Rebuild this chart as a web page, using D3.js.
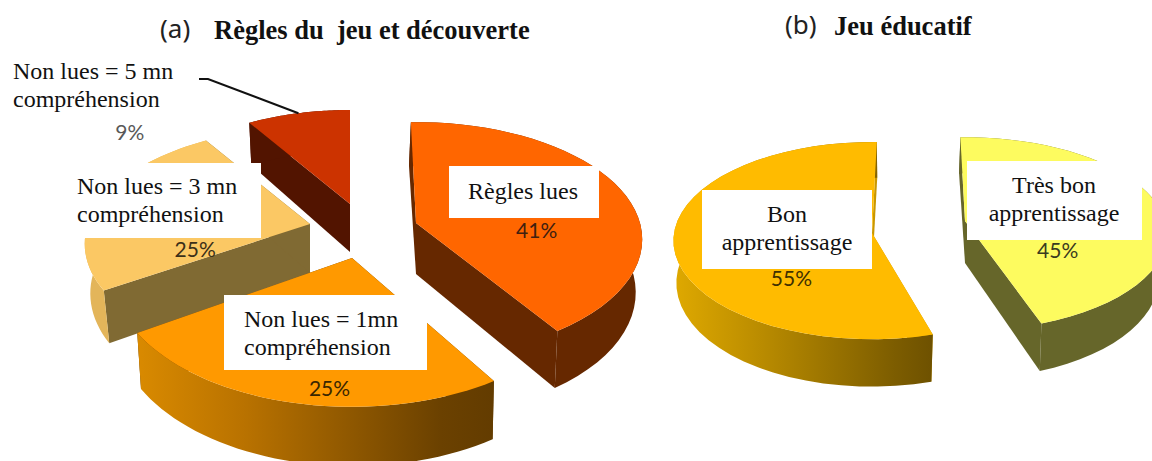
<!DOCTYPE html>
<html>
<head>
<meta charset="utf-8">
<title>Règles du jeu et découverte / Jeu éducatif</title>
<script src="https://cdn.jsdelivr.net/npm/d3@7"></script>
<style>
    html, body { margin: 0; padding: 0; background: #fff; overflow: hidden; }
    svg { display: block; }
</style>
</head>
<body>
<svg id="chart"></svg>
<script>
// values
let reglesNames = ["Règles lues", "Non lues = 1mn compréhension", "Non lues = 3 mn compréhension", "Non lues = 5 mn compréhension"];
let reglesValues = [41, 25, 25, 9];
let educatifNames = ["Très bon apprentissage", "Bon apprentissage"];
let educatifValues = [45, 55];

let svgWidth = 1152, svgHeight = 461;
let svg = d3.select("#chart").attr("width", svgWidth).attr("height", svgHeight);
let defs = svg.append("defs");

// every slice has been pulled out and tilted on its own, so each gets its own projection
// R/Rk = horizontal/vertical radius, p = perspective, d = thickness, bs = shrink of the lower rim
let reglesLayout = [
    {cx: 416, cy: 223, R: 224, Rk: 115, p: 0.14, rot: -1.5, d: 51, bs: 0.97, lean: 2, top: "#FF6600", side: "#662800", radial: "#662800", pct: [6, 28], pctColor: "#402010"},
    {cx: 352, cy: 258, R: 238, Rk: 131, p: 0.12, rot: 0, d: 52, bs: 0.985, lean: 1, top: "#FF9900", side: "url(#sideOrange)", radial: "#663D00", pct: [8, 58], pctColor: "#3a2600"},
    {cx: 310, cy: 224, R: 222, Rk: 113, p: 0.17, rot: 0, d: 49, bs: 0.976, lean: 1, top: "#FBC864", side: "#E3B55A", radial: "#806A33", pct: [2, 41], pctColor: "#3c3018"},
    {cx: 350, cy: 204, R: 215, Rk: 110, p: 0.17, rot: 0, d: 48, bs: 0.98, lean: 0, top: "#CC3300", side: "#521400", radial: "#521400", pct: [-190, -16], pctColor: "#595959"}
];
let educatifLayout = [
    {cx: 965, cy: 221, R: 200, Rk: 95, p: 0.134, rot: -1.5, d: 42, bs: 0.96, lean: 1.5, top: "#FDFB5F", side: "#66662A", radial: "#66662A", pct: [-14, 41], pctColor: "#3a3a20"},
    {cx: 872, cy: 233, R: 198, Rk: 98, p: 0.078, rot: 1.5, d: 41.5, bs: 0.985, lean: -0.5, top: "#FFBB00", side: "url(#sideGold)", radial: "#C99700", pct: [28, 41], pctColor: "#403000"}
];

// gradients on the round side of the slices
function sideGradient(id, stops) {
    let g = defs.append("linearGradient").attr("id", id);
    g.selectAll("stop").data(stops).join("stop")
        .attr("offset", d => d[0])
        .attr("stop-color", d => d[1]);
}
sideGradient("sideOrange", [[0, "#D98A00"], [0.3, "#B97200"], [0.85, "#6B4100"], [1, "#633C00"]]);
sideGradient("sideGold", [[0, "#DFA900"], [0.3, "#BE8F00"], [0.85, "#7D5D00"], [1, "#6E5100"]]);

let pie = d3.pie().sort(null);
let line = d3.line().x(d => d[0]).y(d => d[1]);

// disc -> screen, a in radians clockwise from the top, r as a fraction of the radius
function topPoint(l, a, r) {
    let u = Math.sin(a + l.rot * Math.PI / 180) * r;
    let v = -Math.cos(a + l.rot * Math.PI / 180) * r;
    let s = 1 / (1 - l.p * v);
    return [l.cx + l.R * u * s, l.cy + l.Rk * v * s];
}
function bottomPoint(l, a, r) {
    let t = topPoint(l, a, r);
    let v = -Math.cos(a + l.rot * Math.PI / 180) * r;
    return [l.cx + (t[0] - l.cx) * l.bs + l.lean * v, t[1] + l.d * (1 + 0.14 * v)];
}
function arcAngles(d) {
    return d3.range(0, 41).map(i => d.startAngle + (d.endAngle - d.startAngle) * i / 40);
}

function drawSlice(g, d, l) {
    let angles = arcAngles(d);
    let rim = angles.map(a => topPoint(l, a, 1));
    let low = angles.map(a => bottomPoint(l, a, 1));
    let centre = topPoint(l, 0, 0);
    let centreLow = bottomPoint(l, 0, 0);

    [d.startAngle, d.endAngle].forEach(a => {
        g.append("path")
            .attr("d", line([topPoint(l, a, 1), bottomPoint(l, a, 1), centreLow, centre]) + "Z")
            .attr("fill", l.radial);
    });
    g.append("path")
        .attr("d", line(rim.concat(low.slice().reverse())) + "Z")
        .attr("fill", l.side);
    g.append("path")
        .attr("d", line([centre].concat(rim)) + "Z")
        .attr("fill", l.top);
}

function pctLabel(d, l) {
    let mid = (d.startAngle + d.endAngle) / 2;
    let c = topPoint(l, mid, 0.55);
    svg.append("text")
        .attr("x", c[0] + l.pct[0])
        .attr("y", c[1] + l.pct[1])
        .attr("text-anchor", "middle")
        .attr("dominant-baseline", "middle")
        .attr("font-family", "Lato, 'Open Sans', sans-serif")
        .attr("font-size", 21)
        .attr("fill", l.pctColor)
        .text(d.value + "%");
}

let reglesArcs = pie(reglesValues);
let educatifArcs = pie(educatifValues);

// back to front
let marks = svg.append("g");
[3, 0, 2, 1].forEach(i => drawSlice(marks.append("g"), reglesArcs[i], reglesLayout[i]));
[1, 0].forEach(i => drawSlice(marks.append("g"), educatifArcs[i], educatifLayout[i]));

// leader of the smallest slice
let leaderEnd = topPoint(reglesLayout[3], (reglesArcs[3].startAngle + reglesArcs[3].endAngle) / 2, 1);
svg.append("path")
    .attr("d", line([[199, 79], [208, 79], leaderEnd]))
    .attr("fill", "none")
    .attr("stroke", "#111")
    .attr("stroke-width", 2);

// white text boxes sit on top of the pies
let boxes = [
    {x: 70, y: 163, w: 191, h: 75, lines: ["Non lues = 3 mn", "compréhension"], tx: 77, ty: 194, anchor: "start"},
    {x: 224, y: 295, w: 203, h: 75, lines: ["Non lues = 1mn", "compréhension"], tx: 244, ty: 327, anchor: "start"},
    {x: 449, y: 166, w: 150, h: 52, lines: ["Règles lues"], tx: 523, ty: 199, anchor: "middle"},
    {x: 702, y: 190, w: 170, h: 79, lines: ["Bon", "apprentissage"], tx: 787, ty: 222, anchor: "middle"},
    {x: 967, y: 161, w: 175, h: 79, lines: ["Très bon", "apprentissage"], tx: 1054, ty: 193, anchor: "middle"}
];
svg.selectAll("rect.box").data(boxes).join("rect")
    .attr("class", "box")
    .attr("x", d => d.x).attr("y", d => d.y)
    .attr("width", d => d.w).attr("height", d => d.h)
    .attr("fill", "#fff");

function serifLines(lines, x, y, anchor) {
    lines.forEach((t, i) => {
        svg.append("text")
            .attr("x", x).attr("y", y + i * 28)
            .attr("text-anchor", anchor)
            .attr("font-family", "'Liberation Serif', serif")
            .attr("font-size", 24)
            .attr("fill", "#111")
            .text(t);
    });
}
boxes.forEach(b => serifLines(b.lines, b.tx, b.ty, b.anchor));
serifLines(["Non lues = 5 mn", "compréhension"], 13, 79, "start");

reglesArcs.forEach((d, i) => pctLabel(d, reglesLayout[i]));
educatifArcs.forEach((d, i) => pctLabel(d, educatifLayout[i]));

// panel titles
let titles = [
    {tag: "(a)", tagX: 160, text: "Règles du  jeu et découverte", x: 214, y: 39},
    {tag: "(b)", tagX: 785, text: "Jeu éducatif", x: 834, y: 35}
];
titles.forEach(t => {
    svg.append("text").attr("x", t.tagX).attr("y", t.y - 1)
        .attr("font-family", "'Noto Sans', sans-serif").attr("font-size", 26)
        .attr("fill", "#222").text(t.tag);
    svg.append("text").attr("x", t.x).attr("y", t.y)
        .attr("font-family", "'Liberation Serif', serif").attr("font-size", 26.5)
        .attr("font-weight", "bold").attr("fill", "#111")
        .attr("xml:space", "preserve").style("white-space", "pre").text(t.text);
});
</script>
</body>
</html>
